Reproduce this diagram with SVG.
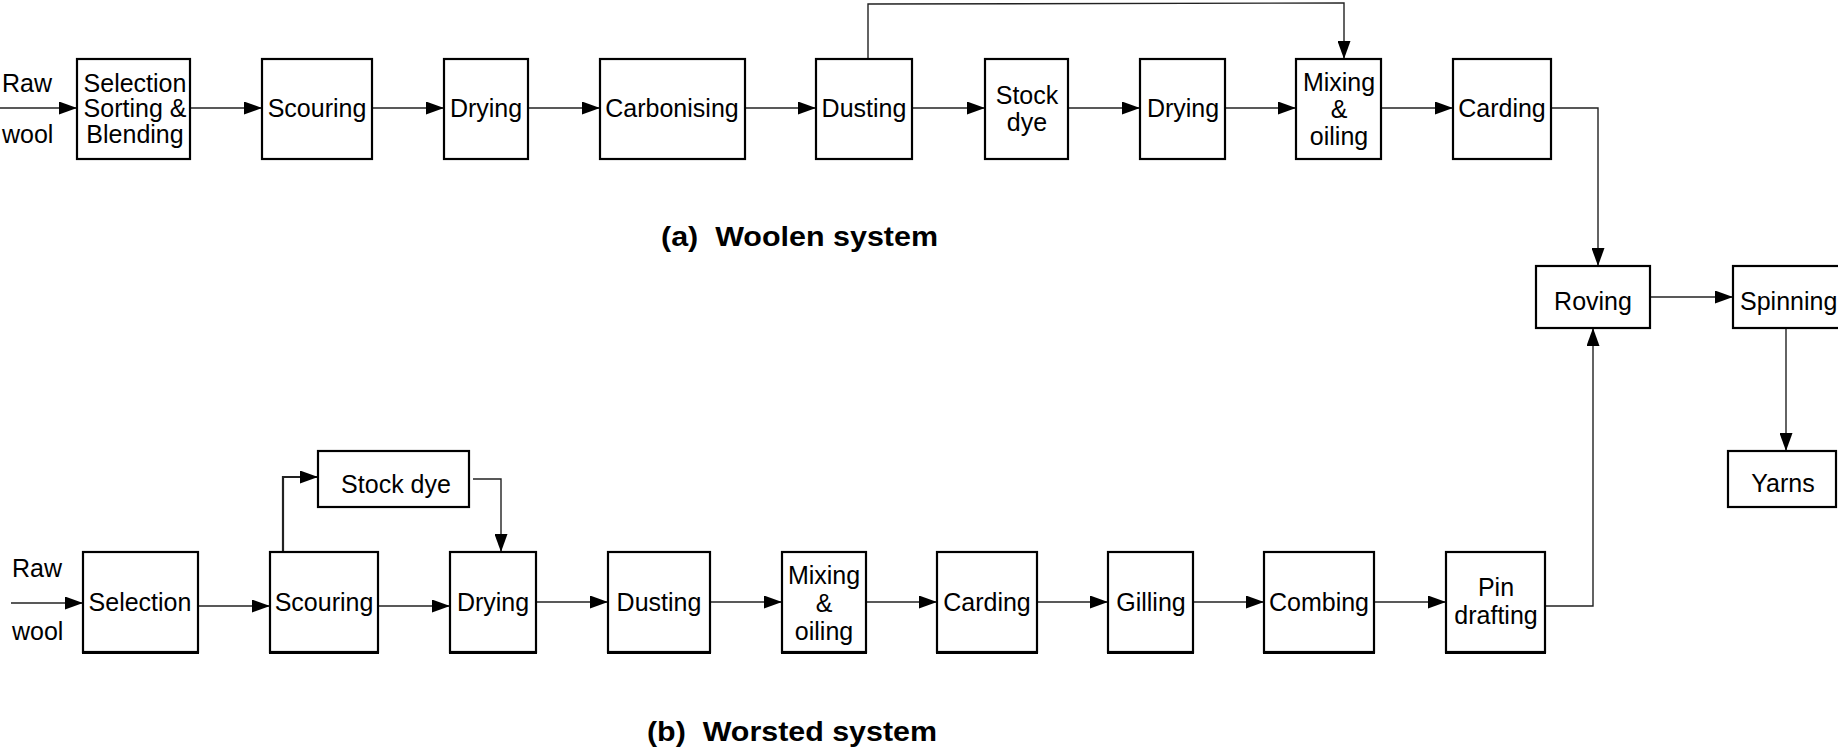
<svg xmlns="http://www.w3.org/2000/svg" width="1838" height="755" viewBox="0 0 1838 755">
<defs>
<marker id="ah" viewBox="0 0 18 13" refX="18" refY="6.5" markerWidth="18" markerHeight="13" markerUnits="userSpaceOnUse" orient="auto">
<path d="M0,0 L18,6.5 L0,13 Z" fill="#000"/>
</marker>
<style>
.box{fill:#fff;stroke:#000;stroke-width:2.2}
.ul{stroke:#000;stroke-width:2}
.t{font-family:"Liberation Sans",Arial,sans-serif;font-size:25px;fill:#000;text-anchor:middle}
.ts{font-family:"Liberation Sans",Arial,sans-serif;font-size:25px;fill:#000}
.title{font-family:"Liberation Sans",Arial,sans-serif;font-size:27px;font-weight:bold;fill:#000}
.c{fill:none;stroke:#222;stroke-width:1.4}
.ca{fill:none;stroke:#222;stroke-width:1.4;marker-end:url(#ah)}
</style>
</defs>
<rect width="1838" height="755" fill="#fff"/>

<g id="connectors">
<path class="ca" d="M0,108 H77"/>
<path class="ca" d="M190,108 H262"/>
<path class="ca" d="M372,108 H444"/>
<path class="ca" d="M528,108 H600"/>
<path class="ca" d="M745,108 H816"/>
<path class="ca" d="M912,108 H985"/>
<path class="ca" d="M1068,108 H1140"/>
<path class="ca" d="M1225,108 H1296"/>
<path class="ca" d="M1381,108 H1453"/>
<path class="ca" d="M1551,108 H1598 V266"/>
<path class="ca" d="M868,59 V4 L1344,3 V59"/>
<path class="ca" d="M1650,297 H1733"/>
<path class="ca" d="M1786,328 V451"/>
<path class="ca" d="M11,603 H83"/>
<path class="ca" d="M198,606 H270"/>
<path class="ca" d="M378,606 H450"/>
<path class="ca" d="M536,602 H608"/>
<path class="ca" d="M710,602 H782"/>
<path class="ca" d="M866,602 H937"/>
<path class="ca" d="M1037,602 H1108"/>
<path class="ca" d="M1193,602 H1264"/>
<path class="ca" d="M1374,602 H1446"/>
<path class="ca" d="M1545,606 H1593 V328"/>
<path class="ca" style="stroke-width:2.2" d="M283,552 V477 H318"/>
<path class="ca" d="M473,479 H501 V552"/>
</g>

<g id="raw-wool-a"><text class="ts" x="2" y="92">Raw</text><text class="ts" x="2" y="143">wool</text></g>
<g id="a-selection"><rect class="box" x="77" y="59" width="113" height="100"/><text class="t" x="135" y="92">Selection</text><text class="t" x="135" y="117">Sorting &amp;</text><text class="t" x="135" y="143">Blending</text></g>
<g id="a-scouring"><rect class="box" x="262" y="59" width="110" height="100"/><text class="t" x="317" y="117">Scouring</text></g>
<g id="a-drying1"><rect class="box" x="444" y="59" width="84" height="100"/><text class="t" x="486" y="117">Drying</text></g>
<g id="a-carbonising"><rect class="box" x="600" y="59" width="145" height="100"/><text class="t" x="672" y="117">Carbonising</text></g>
<g id="a-dusting"><rect class="box" x="816" y="59" width="96" height="100"/><text class="t" x="864" y="117">Dusting</text></g>
<g id="a-stockdye"><rect class="box" x="985" y="59" width="83" height="100"/><text class="t" x="1027" y="104">Stock</text><text class="t" x="1027" y="131">dye</text></g>
<g id="a-drying2"><rect class="box" x="1140" y="59" width="85" height="100"/><text class="t" x="1183" y="117">Drying</text></g>
<g id="a-mixing"><rect class="box" x="1296" y="59" width="85" height="100"/><text class="t" x="1339" y="91">Mixing</text><text class="t" x="1339" y="118">&amp;</text><text class="t" x="1339" y="145">oiling</text></g>
<g id="a-carding"><rect class="box" x="1453" y="59" width="98" height="100"/><text class="t" x="1502" y="117">Carding</text></g>
<g id="title-a"><text class="title" x="661" y="246" textLength="277" lengthAdjust="spacingAndGlyphs">(a)&#160; Woolen system</text></g>

<g id="roving"><rect class="box" x="1536" y="266" width="114" height="62"/><text class="t" x="1593" y="310">Roving</text></g>
<g id="spinning"><rect class="box" x="1733" y="266" width="110" height="62"/><text class="ts" x="1740" y="310">Spinning</text></g>
<g id="yarns"><rect class="box" x="1728" y="451" width="108" height="56"/><text class="t" x="1783" y="492">Yarns</text></g>

<g id="raw-wool-b"><text class="ts" x="12" y="577">Raw</text><text class="ts" x="12" y="640">wool</text></g>
<g id="b-selection"><rect class="box" x="83" y="552" width="115" height="100"/><line class="ul" x1="82" y1="653" x2="199" y2="653"/><text class="t" x="140" y="611">Selection</text></g>
<g id="b-scouring"><rect class="box" x="270" y="552" width="108" height="100"/><line class="ul" x1="269" y1="653" x2="379" y2="653"/><text class="t" x="324" y="611">Scouring</text></g>
<g id="b-stockdye"><rect class="box" x="318" y="451" width="151" height="56"/><text class="t" x="396" y="493">Stock dye</text></g>
<g id="b-drying"><rect class="box" x="450" y="552" width="86" height="100"/><line class="ul" x1="449" y1="653" x2="537" y2="653"/><text class="t" x="493" y="611">Drying</text></g>
<g id="b-dusting"><rect class="box" x="608" y="552" width="102" height="100"/><line class="ul" x1="607" y1="653" x2="711" y2="653"/><text class="t" x="659" y="611">Dusting</text></g>
<g id="b-mixing"><rect class="box" x="782" y="552" width="84" height="100"/><line class="ul" x1="781" y1="653" x2="867" y2="653"/><text class="t" x="824" y="584">Mixing</text><text class="t" x="824" y="612">&amp;</text><text class="t" x="824" y="640">oiling</text></g>
<g id="b-carding"><rect class="box" x="937" y="552" width="100" height="100"/><line class="ul" x1="936" y1="653" x2="1038" y2="653"/><text class="t" x="987" y="611">Carding</text></g>
<g id="b-gilling"><rect class="box" x="1108" y="552" width="85" height="100"/><line class="ul" x1="1107" y1="653" x2="1194" y2="653"/><text class="t" x="1151" y="611">Gilling</text></g>
<g id="b-combing"><rect class="box" x="1264" y="552" width="110" height="100"/><line class="ul" x1="1263" y1="653" x2="1375" y2="653"/><text class="t" x="1319" y="611">Combing</text></g>
<g id="b-pindrafting"><rect class="box" x="1446" y="552" width="99" height="100"/><line class="ul" x1="1445" y1="653" x2="1546" y2="653"/><text class="t" x="1496" y="596">Pin</text><text class="t" x="1496" y="624">drafting</text></g>
<g id="title-b"><text class="title" x="647" y="741" textLength="290" lengthAdjust="spacingAndGlyphs">(b)&#160; Worsted system</text></g>
</svg>
